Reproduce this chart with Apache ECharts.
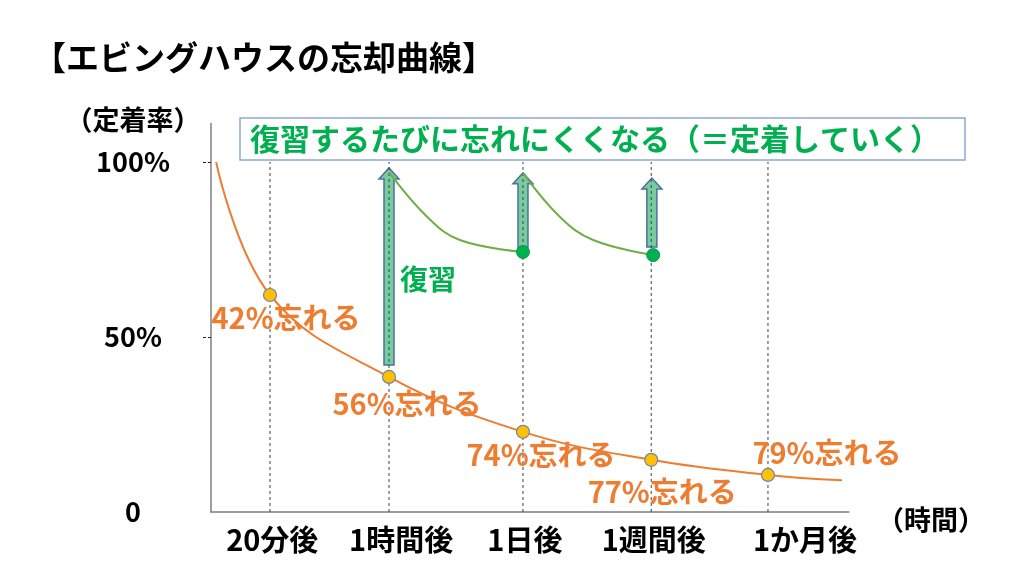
<!DOCTYPE html>
<html>
<head>
<meta charset="utf-8">
<script src="https://cdn.jsdelivr.net/npm/echarts@6/dist/echarts.min.js"></script>
<style>html,body{margin:0;padding:0;background:#fff;}#chart{width:1024px;height:580px;}</style>
</head>
<body>
<div id="chart"></div>
<script>
// ---- data ----
const categories = ['20分後', '1時間後', '1日後', '1週間後', '1か月後'];
const categoryPos = [9.25, 27.9, 48.9, 69.0, 87.3];      // time position of each moment on the x scale
const labelPos = [9.6, 29.8, 49.2, 69.4, 93.1];          // where each category label sits
const retention = [62.0, 38.6, 22.9, 14.9, 10.6];         // % retained (yellow points)
const forgetLabels = ['42%忘れる', '56%忘れる', '74%忘れる', '77%忘れる', '79%忘れる'];
const curveX = [0.8, 9.25, 27.9, 48.9, 69.0, 87.3, 98.9];
const curveY = [100, 62.0, 38.6, 22.9, 14.9, 10.6, 9.1];
const review1X = [27.9, 33.9, 39.0, 48.9];
const review1Y = [97.1, 84.3, 77.7, 74.3];
const review2X = [48.9, 54.7, 59.9, 69.3];
const review2Y = [96.9, 84.3, 77.7, 73.4];
const reviewDotX = [48.9, 69.3];
const reviewDotY = [74.3, 73.4];
const arrowX = [27.9, 48.9, 69.1];
const arrowFrom = [42.0, 75.7, 75.7];
const arrowTo = [98.3, 96.9, 95.4];
const yTickValues = [0, 50, 100];
const yTickMarks = [50, 100];

// ---- styles / layout ----
const FONT = '"Noto Sans CJK JP", "Noto Sans", sans-serif';
const ORANGE = '#ED7D31';
const GREEN = '#00B050';
const labelOffsets = [[16, 23], [18, 27], [18, 23], [11, 32], [59, -22]];

const zip = (xs, ys) => xs.map((x, i) => [x, ys[i]]);

const chart = echarts.init(document.getElementById('chart'), null, {renderer: 'canvas'});

const option = {
  backgroundColor: '#fff',
  animation: false,
  textStyle: {fontFamily: FONT},
  grid: {left: 211, right: 175, top: 123.5, bottom: 68, containLabel: false},
  xAxis: {
    type: 'value', min: 0, max: 100,
    axisLine: {show: true, lineStyle: {color: '#7F7F7F', width: 1.5}},
    axisTick: {show: false},
    splitLine: {show: false},
    axisLabel: {
      customValues: labelPos,
      margin: 13,
      fontSize: 29, fontWeight: 'bold', color: '#000', fontFamily: FONT,
      formatter: v => {
        let best = 0;
        labelPos.forEach((p, i) => { if (Math.abs(p - v) < Math.abs(labelPos[best] - v)) best = i; });
        return categories[best];
      }
    }
  },
  yAxis: {
    type: 'value', min: 0, max: 111,
    axisLine: {show: true, lineStyle: {color: '#7F7F7F', width: 1.5}},
    splitLine: {show: false},
    axisTick: {show: true, customValues: yTickMarks, length: 9, lineStyle: {color: '#222', type: [3, 2], width: 1}},
    axisLabel: {
      customValues: yTickValues,
      margin: 78, align: 'center',
      fontSize: 27, fontWeight: 'bold', color: '#000', fontFamily: FONT,
      formatter: v => v === 0 ? '0' : v + '%'
    }
  },
  graphic: [
    {type: 'text', x: 33, y: 57, z: 10,
      style: {text: '【エビングハウスの忘却曲線】', fill: '#000', font: 'bold 33px ' + FONT, verticalAlign: 'middle', align: 'left'}},
    {type: 'text', x: 133, y: 120, z: 10,
      style: {text: '（定着率）', fill: '#000', font: 'bold 27px ' + FONT, verticalAlign: 'middle', align: 'center'}},
    {type: 'text', x: 931, y: 520, z: 10,
      style: {text: '（時間）', fill: '#000', font: 'bold 27px ' + FONT, verticalAlign: 'middle', align: 'center'}},
    {type: 'rect', z: 10, shape: {x: 240, y: 118, width: 725, height: 42},
      style: {fill: '#fff', stroke: '#8FA9CF', lineWidth: 1.5}},
    {type: 'text', x: 250, y: 139, z: 11,
      style: {text: '復習するたびに忘れにくくなる（＝定着していく）', fill: GREEN, font: 'bold 30px ' + FONT, verticalAlign: 'middle', align: 'left'}},
    {type: 'text', x: 428, y: 279, z: 11,
      style: {text: '復習', fill: GREEN, font: 'bold 28px ' + FONT, verticalAlign: 'middle', align: 'center'}}
  ],
  series: [
    {
      name: 'arrows', type: 'custom', z: 2,
      data: arrowX.map((x, i) => [x, arrowFrom[i], arrowTo[i]]),
      renderItem: (params, api) => {
        const b = api.coord([api.value(0), api.value(1)]);
        const t = api.coord([api.value(0), api.value(2)]);
        const cx = b[0], sw = 5, hw = 10, hl = 11;
        return {
          type: 'polygon',
          shape: {points: [[cx - sw, b[1]], [cx - sw, t[1] + hl], [cx - hw, t[1] + hl], [cx, t[1]], [cx + hw, t[1] + hl], [cx + sw, t[1] + hl], [cx + sw, b[1]]]},
          style: {fill: '#76CC9C', stroke: '#4F6FA3', lineWidth: 1.5}
        };
      }
    },
    {
      name: 'guides', type: 'custom', z: 3,
      data: categoryPos.map(x => [x]),
      renderItem: (params, api) => {
        const b = api.coord([api.value(0), 0]);
        const t = api.coord([api.value(0), 100]);
        return {
          type: 'line',
          shape: {x1: b[0], y1: b[1], x2: t[0], y2: t[1]},
          style: {stroke: '#404040', lineWidth: 1, lineDash: [3, 3]}
        };
      }
    },
    {
      name: 'forgetting', type: 'line', z: 4, smooth: 0.4,
      showSymbol: false, symbol: 'none',
      lineStyle: {color: ORANGE, width: 2},
      data: zip(curveX, curveY)
    },
    {
      name: 'review1', type: 'line', z: 4, smooth: 0.4,
      showSymbol: false, symbol: 'none',
      lineStyle: {color: '#70AD47', width: 2},
      data: zip(review1X, review1Y)
    },
    {
      name: 'review2', type: 'line', z: 4, smooth: 0.4,
      showSymbol: false, symbol: 'none',
      lineStyle: {color: '#70AD47', width: 2},
      data: zip(review2X, review2Y)
    },
    {
      name: 'reviewDots', type: 'scatter', z: 5, symbolSize: 13,
      itemStyle: {color: GREEN, borderColor: '#00A04A', borderWidth: 1, opacity: 1},
      data: zip(reviewDotX, reviewDotY)
    },
    {
      name: 'retention', type: 'scatter', z: 6, symbolSize: 13,
      itemStyle: {color: '#FFC000', borderColor: '#6E86A8', borderWidth: 1.2, opacity: 1},
      data: categoryPos.map((x, i) => ({
        value: [x, retention[i]],
        label: {
          show: true, position: 'inside', offset: labelOffsets[i],
          formatter: forgetLabels[i],
          color: ORANGE, fontSize: 29, fontWeight: 'bold', fontFamily: FONT
        }
      }))
    }
  ]
};
chart.setOption(option);
</script>
</body>
</html>
